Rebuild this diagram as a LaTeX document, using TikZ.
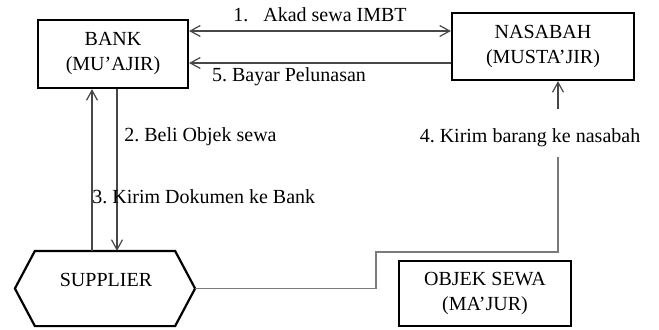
\documentclass[tikz,border=0pt]{standalone}
\usepackage{fontspec}
\setmainfont{Liberation Serif}
\usetikzlibrary{arrows.meta,calc,positioning}
\definecolor{IjarahLine}{HTML}{474747}
\definecolor{IjarahRoute}{HTML}{7A7A7A}
\frenchspacing

\begin{document}
\begin{tikzpicture}[x=0.5pt,y=-0.5pt,
    party/.style={draw=black,line width=1.1pt,align=center,inner sep=0pt,
      font=\fontsize{10}{12.5}\selectfont},
    flowlbl/.style={inner sep=0pt,text=black,font=\fontsize{10}{12.5}\selectfont},
    flow/.style={IjarahLine,line width=0.6pt},
    tip/.style={-{Straight Barb[length=5pt,width=5.5pt]}}]

        \useasboundingbox (0,0) rectangle (659,329);

        \node[party,minimum width=75pt,minimum height=34pt]
          (bank) at (113,54) {BANK\\(MU'AJIR)};

        \node[party,minimum width=91pt,minimum height=33.5pt]
          (nasabah) at (543,46.5) {NASABAH\\(MUSTA'JIR)};

        \node[party,minimum width=86pt,minimum height=32.5pt]
          (objek) at (485,293.5) {OBJEK SEWA\\(MA'JUR)};

        \node[party,draw=none,minimum width=89pt,minimum height=36.5pt]
          (supplier) at (105,288.5) {};
        \draw[black,line width=1.1pt,line join=miter]
          (supplier.west) -- ([xshift=10pt]supplier.north west)
          -- ([xshift=-10pt]supplier.north east) -- (supplier.east)
          -- ([xshift=-10pt]supplier.south east)
          -- ([xshift=10pt]supplier.south west) -- cycle;
        \node[flowlbl] (supplierlbl) at (106,280) {SUPPLIER};

        % akad dan pelunasan
        \draw[flow,{Straight Barb[length=5pt,width=5.5pt]}-{Straight Barb[length=5pt,width=5.5pt]}]
          ([yshift=11.5pt]bank.east) --
          node[flowlbl,above=4.5pt] (akad) {1.\hspace{7.5pt}Akad sewa IMBT}
          ([yshift=11.5pt]bank.east -| nasabah.west);

        \draw[flow,tip]
          ([yshift=-4.5pt]bank.east -| nasabah.west) -- ([yshift=-4.5pt]bank.east);
        \node[flowlbl] (bayar) at (289,77) {5. Bayar Pelunasan};

        % bank dan supplier
        \draw[flow,tip]
          ([xshift=-10.5pt]bank.south |- supplier.north) -- ([xshift=-10.5pt]bank.south);
        \draw[flow,tip]
          ([xshift=2pt]bank.south) -- ([xshift=2pt]bank.south |- supplier.north);

        \node[flowlbl,anchor=west] (beli) at (124,137) {2. Beli Objek sewa};
        \node[flowlbl,anchor=west] (dokumen) at (92,197) {3. Kirim Dokumen ke Bank};

        % pengiriman barang
        \coordinate (kirimbawah) at (558,157);
        \coordinate (kirimatas) at (558,109);

        \draw[IjarahRoute,line width=0.6pt]
          (supplier.east) -| (376,252) -| (kirimbawah);
        \draw[flow,tip] (kirimatas) -- (kirimatas |- nasabah.south);

        \node[flowlbl] (kirim) at (530,138) {4. Kirim barang ke nasabah};

      \end{tikzpicture}
\end{document}
